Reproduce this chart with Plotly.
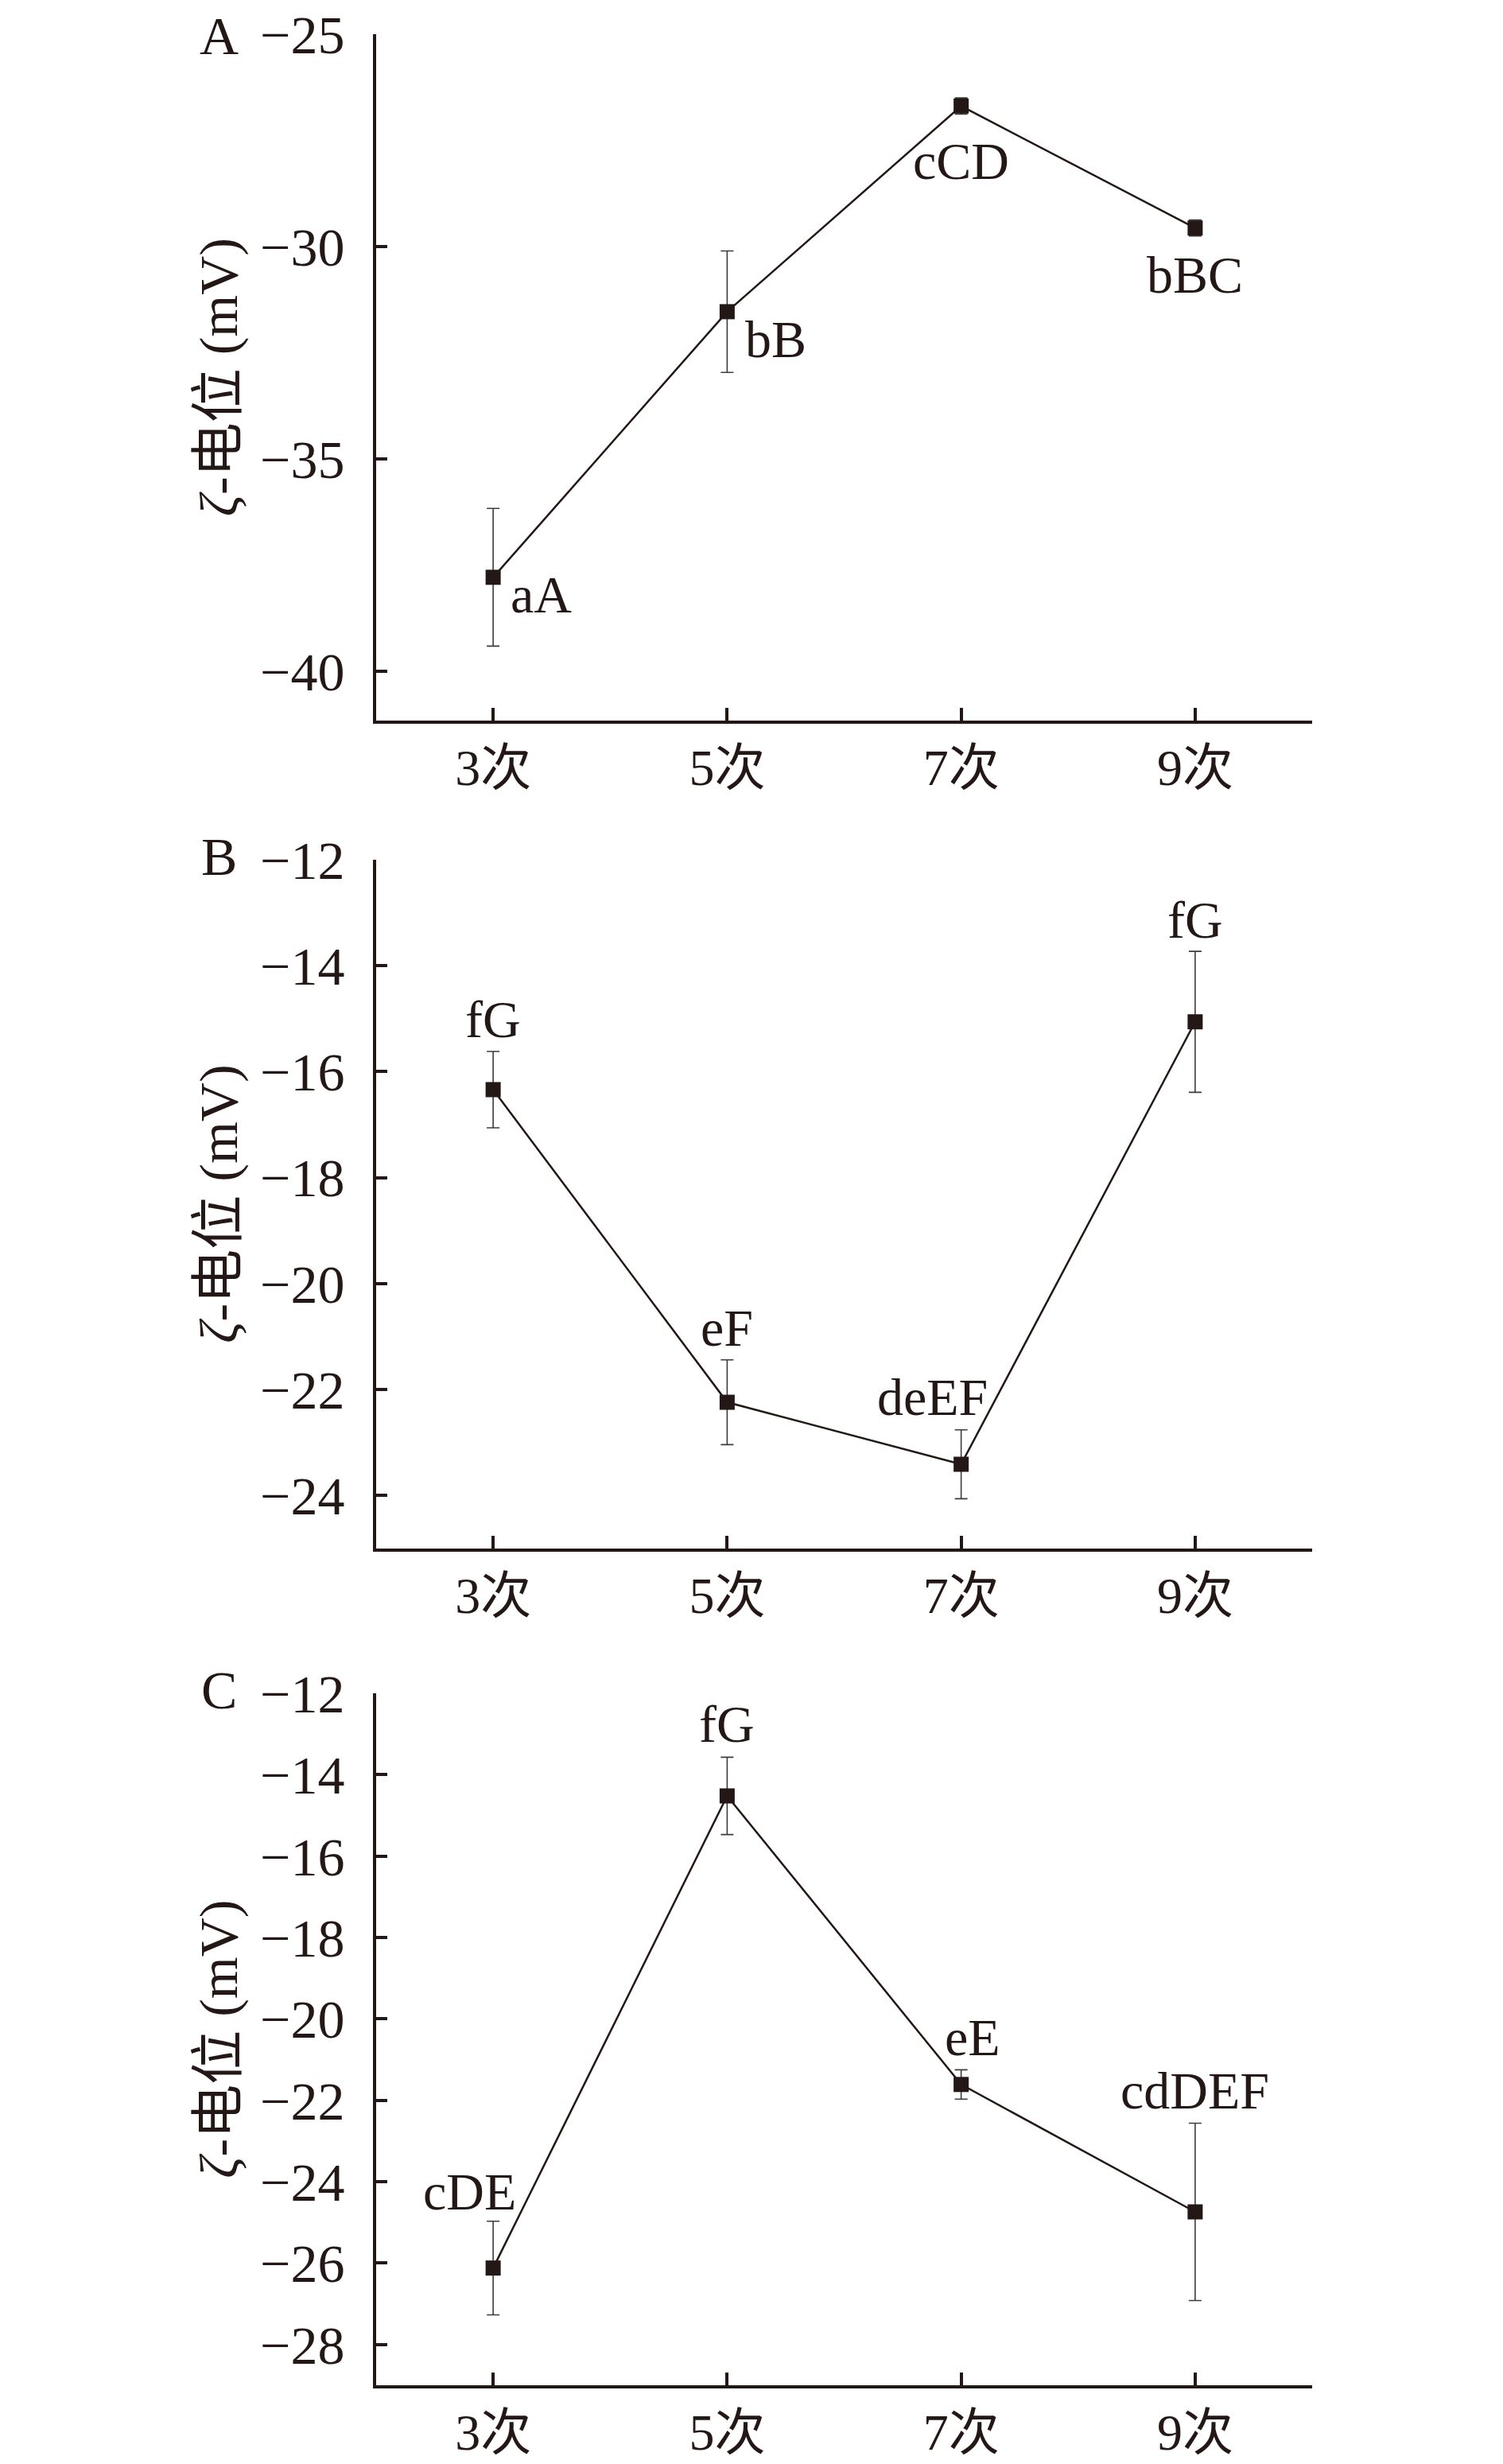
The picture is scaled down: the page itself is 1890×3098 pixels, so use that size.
import plotly.graph_objects as go
from plotly.subplots import make_subplots

# ---------------- data ----------------
categories = ["3次", "5次", "7次", "9次"]

zeta_A = [-37.78, -31.53, -26.69, -29.56]
err_A = [1.62, 1.43, 0.19, 0.19]
labels_A = ["aA", "bB", "cCD", "bBC"]

zeta_B = [-16.34, -22.24, -23.41, -15.06]
err_B = [0.72, 0.80, 0.65, 1.33]
labels_B = ["fG", "eF", "deEF", "fG"]

zeta_C = [-26.12, -14.52, -21.61, -24.74]
err_C = [1.15, 0.95, 0.36, 2.18]
labels_C = ["cDE", "fG", "eE", "cdDEF"]

panel_letters = ["A", "B", "C"]
y_title = "<i>ζ</i>-电位 (mV)"

# ---------------- styles ----------------
INK = "#231815"
FONT = "Liberation Serif, 'Noto Sans CJK SC', serif"
TICK_SIZE = 68
XTICK_SIZE = 64
LABEL_SIZE = 66

y_ranges = [[-41.15, -25], [-25, -12], [-29, -12]]
y_dticks = [5, 2, 2]
domains = [[0.7069, 0.9983], [0.3553, 0.6478], [0.0, 0.2938]]
letter_yshift = [-2, 4, 4]

# label offsets (pixels): (xshift, yshift, xanchor)
offs_A = [(20, -22, "left"), (21, -35, "left"), (0, -69, "center"), (0, -59, "center")]
offs_B = [(0, 89, "center"), (0, 94, "center"), (-36, 85, "center"), (0, 128, "center")]
offs_C = [(-30, 96, "center"), (0, 91, "center"), (14, 59, "center"), (0, 152, "center")]

series = [(zeta_A, err_A, labels_A, offs_A),
          (zeta_B, err_B, labels_B, offs_B),
          (zeta_C, err_C, labels_C, offs_C)]

fig = make_subplots(rows=3, cols=1)

annotations = []
for i, (vals, errs, labs, offs) in enumerate(series):
    row = i + 1
    fig.add_trace(go.Scatter(
        x=categories, y=vals,
        mode="lines+markers",
        line=dict(color=INK, width=2.5),
        marker=dict(symbol="square", size=19, color=INK),
        error_y=dict(type="data", array=errs, visible=True,
                     color="#3c3c3c", thickness=1.6, width=8),
        showlegend=False, cliponaxis=False,
    ), row=row, col=1)
    xref = "x" if i == 0 else f"x{i+1}"
    yref = "y" if i == 0 else f"y{i+1}"
    for c, v, lab, (xs, ys, xa) in zip(categories, vals, labs, offs):
        annotations.append(dict(
            x=c, y=v, xref=xref, yref=yref, text=lab, showarrow=False,
            xanchor=xa, yanchor="middle", xshift=xs, yshift=ys,
            font=dict(family=FONT, size=LABEL_SIZE, color=INK)))
    # panel letter
    annotations.append(dict(
        x=0, y=domains[i][1], xref="paper", yref="paper", text=panel_letters[i],
        showarrow=False, xanchor="center", yanchor="middle", xshift=-198,
        yshift=letter_yshift[i],
        font=dict(family=FONT, size=TICK_SIZE, color=INK)))
    # y title
    annotations.append(dict(
        x=0, y=(domains[i][0] + domains[i][1]) / 2, xref="paper", yref="paper",
        text=y_title, textangle=-90, showarrow=False,
        xanchor="center", yanchor="middle", xshift=-198,
        font=dict(family=FONT, size=TICK_SIZE, color=INK)))

    axis_common = dict(showline=True, linecolor=INK, linewidth=4,
                       ticks="inside", tickcolor=INK, tickwidth=4,
                       showgrid=False, zeroline=False, automargin=False,
                       ticklabeloverflow="allow")
    fig.update_xaxes(type="category", range=[-0.5, 3.5], ticklen=16,
                     ticklabelstandoff=0,
                     tickfont=dict(family=FONT, size=XTICK_SIZE, color=INK),
                     **axis_common, row=row, col=1)
    fig.update_yaxes(range=y_ranges[i], dtick=y_dticks[i], tick0=0, ticklen=14,
                     domain=domains[i], ticklabelstandoff=22,
                     tickfont=dict(family=FONT, size=TICK_SIZE, color=INK),
                     **axis_common, row=row, col=1)

# the page body adds an 8px offset; the figure is sized so that the plotted
# area lands where it does in the reference, reaching the bottom of the window
fig.update_layout(
    width=1855, height=3090,
    margin=dict(l=465, r=213, t=30, b=99),
    paper_bgcolor="white", plot_bgcolor="white",
    annotations=annotations,
    font=dict(family=FONT, color=INK),
)

fig.write_html("out.html")
